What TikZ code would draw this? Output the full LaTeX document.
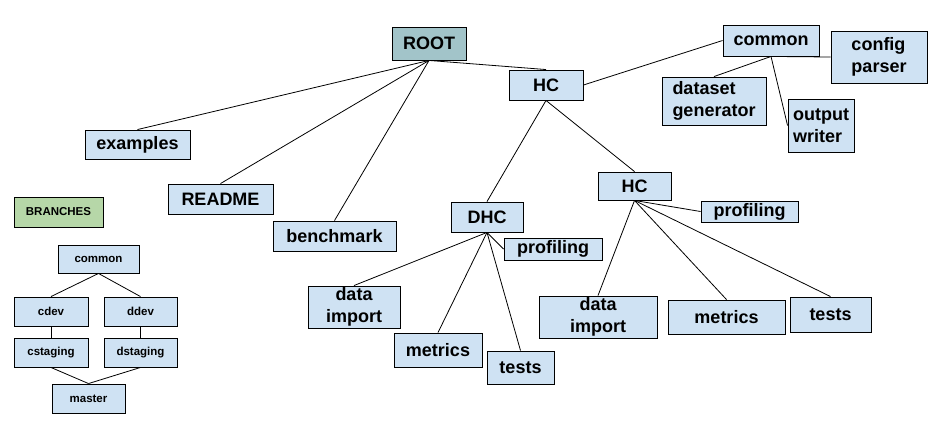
\documentclass[tikz,border=0pt]{standalone}
\usepackage{fontspec}
\setmainfont{Liberation Sans}
\definecolor{boxblue}{HTML}{CFE2F3}
\definecolor{rootteal}{HTML}{A2C4C9}
\definecolor{brgreen}{HTML}{B6D7A8}
\tikzset{
  bx/.style={draw=black, line width=0.9pt, fill=boxblue, inner sep=0pt,
    font=\fontsize{18}{21.5}\selectfont\bfseries, align=center},
  sbx/.style={bx, font=\fontsize{11.5}{14}\selectfont\bfseries},
  wh/.style 2 args={minimum width=#1, minimum height=#2},
  conn/.style={draw=black, line width=0.8pt},
}
\begin{document}
\begin{tikzpicture}[x=1pt,y=-1pt]
\useasboundingbox (0,0) rectangle (941,421);
% main tree
\node[bx, fill=rootteal, wh={74pt}{33pt}] (root) at (429,43.5) {ROOT};
\node[bx, wh={74pt}{30pt}] (hc) at (546,85) {HC};
\node[bx, wh={96pt}{31pt}] (common) at (771,40.5) {common};
\node[bx, wh={96pt}{52pt}, align=left] (config) at (879,57) {config\\parser};
\node[bx, wh={104pt}{48pt}, align=left] (dataset) at (714,101) {dataset\\generator};
\node[bx, wh={66pt}{53pt}, align=left] (output) at (821,125.5) {output\\writer};
\node[bx, wh={105pt}{29pt}] (examples) at (137.5,144.5) {examples};
\node[bx, wh={105pt}{30pt}] (readme) at (220.5,199) {README};
\node[bx, wh={123pt}{30pt}] (bench) at (334.5,236) {benchmark};
\node[bx, wh={72pt}{30pt}] (dhc) at (487,217) {DHC};
\node[bx, wh={98pt}{22pt}] (profd) at (553,249) {profiling};
\node[bx, wh={92pt}{42pt}] (datad) at (354,307) {data\\import};
\node[bx, wh={88pt}{34pt}] (metd) at (438,350) {metrics};
\node[bx, wh={67pt}{33pt}] (testd) at (520.5,367.5) {tests};
\node[bx, wh={73pt}{28pt}] (hc2) at (634.5,186) {HC};
\node[bx, wh={97pt}{21pt}] (profh) at (749.5,211.5) {profiling};
\node[bx, wh={118pt}{42pt}] (datah) at (598,317) {data\\import};
\node[bx, wh={117pt}{34pt}] (meth) at (726.5,317) {metrics};
\node[bx, wh={81pt}{35pt}] (testh) at (830.5,314.5) {tests};
% connectors
\draw[conn] (root.south) -- (hc.north);
\draw[conn] (root.south) -- (examples.north);
\draw[conn] (root.south) -- (readme.north);
\draw[conn] (root.south) -- (bench.north);
\draw[conn] (common.west) -- (hc.east);
\draw[conn] (common.south) -- (dataset.north);
\draw[conn] (common.south) -- (output.west);
\draw[conn] (common.south) -- (config.west);
\draw[conn] (hc.south) -- (dhc.north);
\draw[conn] (hc.south) -- (hc2.north);
\draw[conn] (dhc.south) -- (profd.west);
\draw[conn] (dhc.south) -- (datad.north);
\draw[conn] (dhc.south) -- (metd.north);
\draw[conn] (dhc.south) -- (testd.north);
\draw[conn] (hc2.south) -- (profh.west);
\draw[conn] (hc2.south) -- (datah.north);
\draw[conn] (hc2.south) -- (meth.north);
\draw[conn] (hc2.south) -- (testh.north);
% branches
\node[sbx, fill=brgreen, wh={89pt}{30pt}] (branches) at (58.5,212) {BRANCHES};
\node[sbx, wh={81pt}{28pt}] (bcommon) at (98.5,259) {common};
\node[sbx, wh={74pt}{29pt}] (cdev) at (51,311.5) {cdev};
\node[sbx, wh={73pt}{29pt}] (ddev) at (140.5,311.5) {ddev};
\node[sbx, wh={74pt}{29pt}] (cstag) at (51,352.5) {cstaging};
\node[sbx, wh={73pt}{29pt}] (dstag) at (140.5,352.5) {dstaging};
\node[sbx, wh={73pt}{29pt}] (master) at (88.5,398.5) {master};
\draw[conn] (bcommon.south) -- (cdev.north);
\draw[conn] (bcommon.south) -- (ddev.north);
\draw[conn] (cdev.south) -- (cstag.north);
\draw[conn] (ddev.south) -- (dstag.north);
\draw[conn] (cstag.south) -- (master.north);
\draw[conn] (dstag.south) -- (master.north);
\end{tikzpicture}
\end{document}
